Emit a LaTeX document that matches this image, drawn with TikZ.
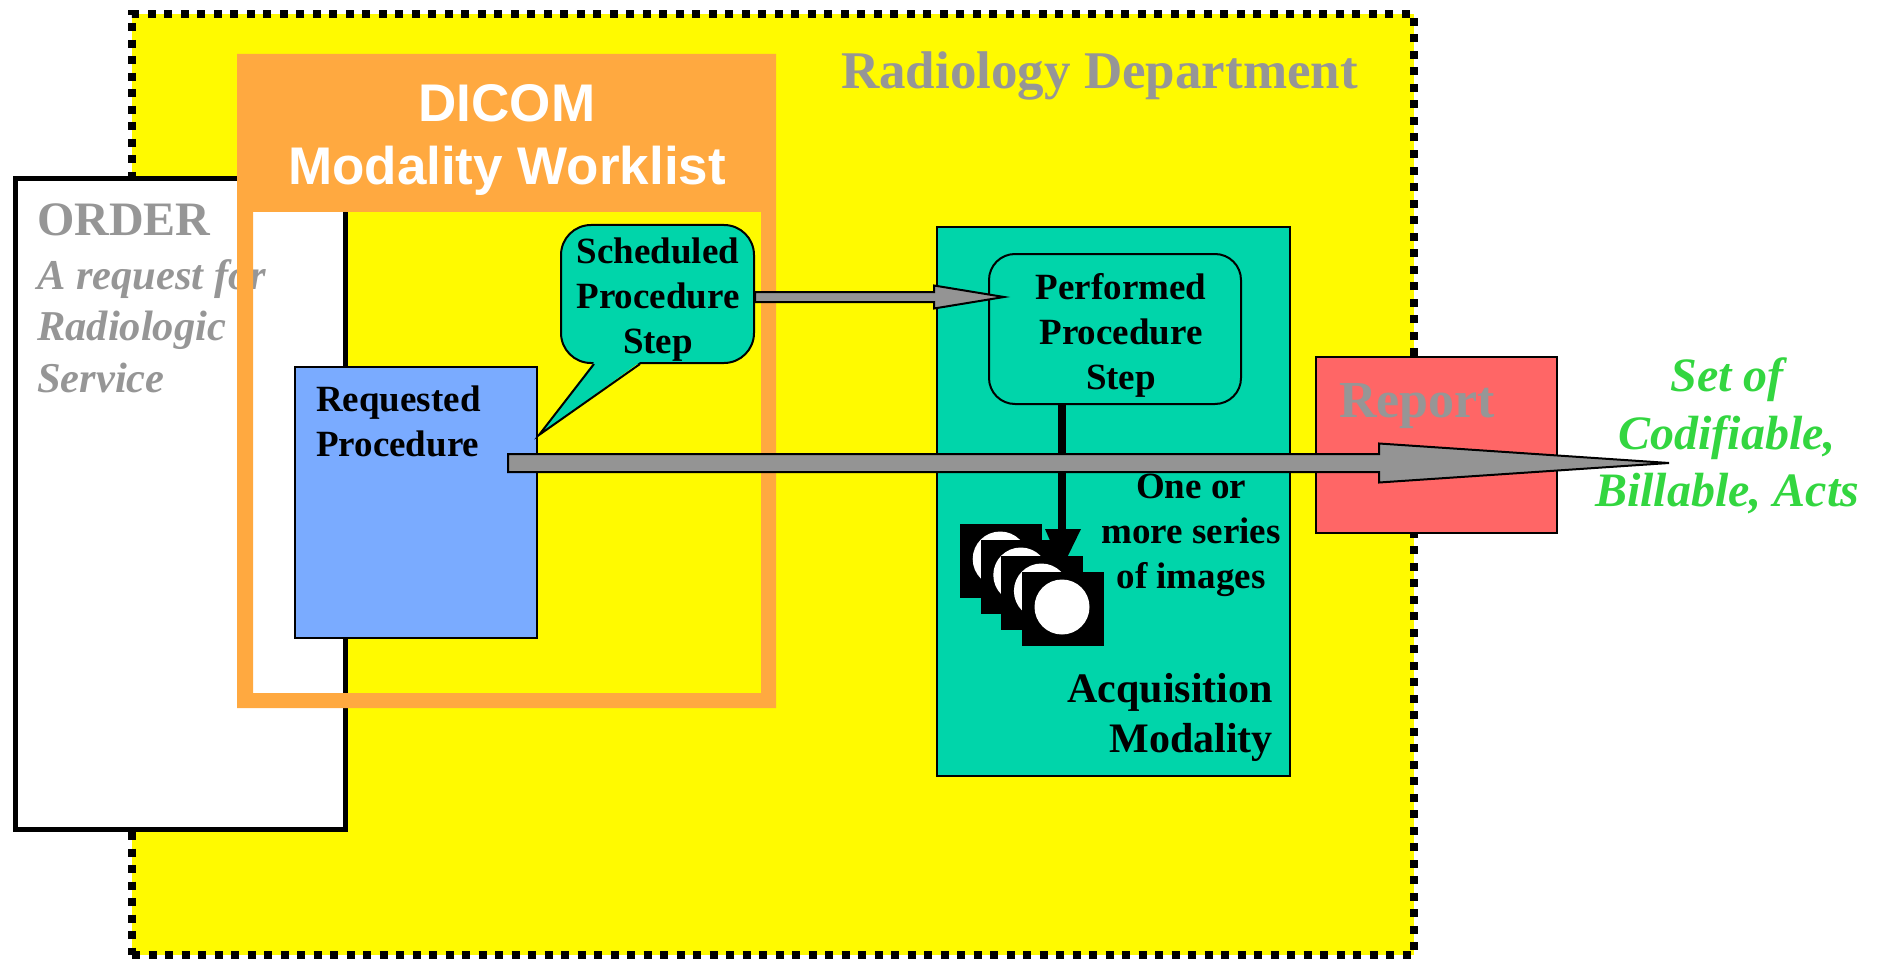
\documentclass[tikz,border=0pt]{standalone}
\usepackage{fontspec}
\usepackage{xcolor}
\setmainfont{Liberation Serif}
\newfontfamily\arialfont{Liberation Sans}
\usetikzlibrary{calc, positioning}

\definecolor{deptyellow}{HTML}{FFFA00}
\definecolor{listorange}{HTML}{FFA940}
\definecolor{stepteal}{HTML}{00D5AA}
\definecolor{reqblue}{HTML}{7AABFF}
\definecolor{reportred}{HTML}{FF6666}
\definecolor{labelgray}{HTML}{969696}
\definecolor{arrowgray}{HTML}{949494}
\definecolor{actsgreen}{HTML}{33D640}

\newcommand{\blockarrow}[5]{%
  \draw[grayblock] ($(#1)+(0,-#4)$) -- ($(#2)+(-#3,-#4)$) -- ($(#2)+(-#3,-#5)$) -- (#2)
    -- ($(#2)+(-#3,#5)$) -- ($(#2)+(-#3,#4)$) -- ($(#1)+(0,#4)$) -- cycle;}

\begin{document}
\begin{tikzpicture}[
    x=1pt, y=-1pt,
    box/.style={draw, rectangle, inner sep=0pt, line width=2pt},
    txt/.style={inner sep=0pt, font=\fontsize{37}{45}\selectfont\bfseries, align=center},
    graytxt/.style={inner sep=0pt, text=labelgray, font=\fontsize{52}{58}\selectfont\bfseries},
    grayital/.style={inner sep=0pt, text=labelgray, align=left, font=\fontsize{42.5}{51.5}\selectfont\bfseries\itshape},
    grayblock/.style={draw, fill=arrowgray, line width=2pt, line join=miter}
]
\useasboundingbox (0,0) rectangle (1879,960);

% Department
\node[box, fill=deptyellow, line width=8pt, dash pattern=on 8pt off 8.5pt, minimum width=1282pt, minimum height=941pt] (dept) at (773,484.5) {};
\node[graytxt, anchor=base west, font=\fontsize{53}{58}\selectfont\bfseries] (depttxt) at (841,89) {Radiology Department};

% Order
\node[box, fill=white, line width=5pt, minimum width=330pt, minimum height=650pt] (order) at (180,504) {};
\node[graytxt, anchor=base west, font=\fontsize{48}{58}\selectfont\bfseries] (ordertxt) at (37,236) {ORDER};
\node[grayital, anchor=north west] (ordersub) at (37,259) {A request for\\Radiologic\\Service};

% Worklist frame
\fill[listorange, even odd rule] (237,54) rectangle (776,708) (253,212) rectangle (761,693);
\node[inner sep=0pt, text=white, align=center, font=\arialfont\fontsize{53}{63}\selectfont\bfseries] (listtxt) at (507,140) {DICOM\\Modality Worklist};

% Requested procedure
\node[box, fill=reqblue, minimum width=242pt, minimum height=271pt] (req) at (416,502.5) {};
\node[txt, align=left, anchor=north west] (reqtxt) at (316,386) {Requested\\Procedure};

% Acquisition modality
\node[box, fill=stepteal, minimum width=353pt, minimum height=549pt] (modality) at (1113.5,501.5) {};
\node[inner sep=0pt, align=right, anchor=south east, font=\fontsize{42}{50}\selectfont\bfseries] (modtxt) at (1273,762) {Acquisition\\Modality};

% Report
\node[box, fill=reportred, minimum width=241pt, minimum height=176pt] (report) at (1436.5,445) {};
\node[graytxt, anchor=base west] (reporttxt) at (1339,417) {Report};

% Performed step
\node[box, fill=stepteal, rounded corners=26pt, minimum width=252pt, minimum height=150pt] (pps) at (1115,329) {};
\node[txt] (ppstxt) at (1121,335.5) {Performed\\Procedure\\Step};

% Images
\coordinate (imghead) at (1062,529);
\draw[line width=8pt] (pps.south -| imghead) -- (imghead);
\fill (1045,529) -- (1081,529) -- (1062,568) -- cycle;
\foreach \i in {0,...,3} {
  \fill (960+20.6*\i,524+16*\i) rectangle +(82,74);
  \fill[white] (1000.2+20.6*\i,559+16*\i) circle (27.5pt);
}
\node[txt] (seriestxt) at (1191,535) {One or\\more series\\of images};

% Scheduled step
\coordinate (schedtip) at (1004,297);
\blockarrow{755,297}{schedtip}{70}{5}{11.5}
\node[box, fill=stepteal, rounded corners=30pt, minimum width=193pt, minimum height=138pt] (sps) at (657.5,294) {};
\coordinate (tailtip) at ($(req.north east)+(1,69)$);
\fill[stepteal] ($(sps.south west)+(34,-2)$) -- (tailtip) -- ($(sps.south west)+(80,-2)$) -- cycle;
\draw[line width=2pt, line join=miter] ($(sps.south west)+(34,0)$) -- (tailtip) -- ($(sps.south west)+(80,0)$);
\node[txt] (spstxt) at (658,300) {Scheduled\\Procedure\\Step};

% Main arrow
\coordinate (acttip) at (1669,463);
\coordinate (reqstart) at (508,463);
\blockarrow{reqstart}{acttip}{290}{9}{19.5}

% Result
\node[inner sep=0pt, text=actsgreen, align=center, font=\fontsize{48}{57.5}\selectfont\bfseries\itshape] (actstxt) at (1727,436) {Set of\\Codifiable,\\Billable, Acts};
\end{tikzpicture}
\end{document}
